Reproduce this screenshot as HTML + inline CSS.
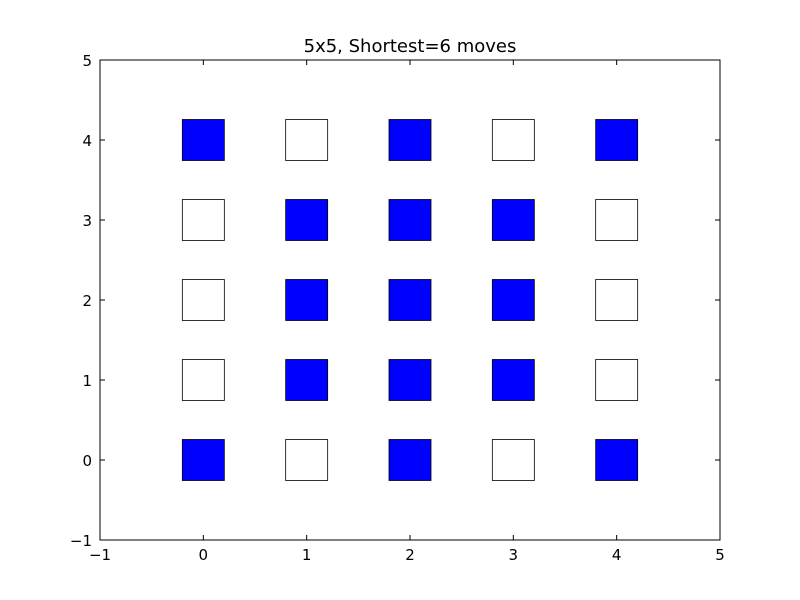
<!DOCTYPE html>
<html><head><meta charset="utf-8"><style>body{margin:0;background:#fff}svg{display:block}</style></head>
<body>
<svg id="c" width="800" height="600" xmlns="http://www.w3.org/2000/svg" font-family="DejaVu Sans, Liberation Sans, sans-serif"></svg>
<script>
const xTicks=[-1,0,1,2,3,4,5];
const yTicks=[-1,0,1,2,3,4,5];
const xs=[0,1,2,3,4];
const ys=[0,1,2,3,4];
// rows from y=0 to y=4; 1 = blue, 0 = white
const grid=[
[1,0,1,0,1],
[0,1,1,1,0],
[0,1,1,1,0],
[0,1,1,1,0],
[1,0,1,0,1]];
const title="5x5, Shortest=6 moves";
const L=100,R=720,T=60,B=540;
const sx=v=>L+(v+1)/6*(R-L);
const sy=v=>B-(v+1)/6*(B-T);
const svg=document.getElementById('c');
const NS='http://www.w3.org/2000/svg';
function mk(t,a,p){const e=document.createElementNS(NS,t);for(const k in a)e.setAttribute(k,a[k]);(p||svg).appendChild(e);return e;}
const fr=mk('rect',{x:L,y:T,width:R-L,height:B-T,fill:'#fff',stroke:'#000','stroke-width':1});


const hw=21,hh=20.5;
ys.forEach((yv,i)=>xs.forEach((xv,j)=>{
 const r=mk('rect',{x:sx(xv)-hw,y:sy(yv)-hh,width:2*hw,height:2*hh,fill:grid[i][j]?'#0000ff':'#fff',stroke:'#000','stroke-width':0.8});
 
 
}));
xTicks.forEach(v=>{
 const x=sx(v);
 mk('line',{x1:x,y1:B,x2:x,y2:B-5,stroke:'#000'});
 mk('line',{x1:x,y1:T,x2:x,y2:T+5,stroke:'#000'});
 const t=mk('text',{x:x,y:B+20,'text-anchor':'middle','font-size':15});
 t.textContent=v<0?'\u2212'+(-v):v;
 
 
});
yTicks.forEach(v=>{
 const y=sy(v);
 mk('line',{x1:L,y1:y,x2:L+5,y2:y,stroke:'#000'});
 mk('line',{x1:R,y1:y,x2:R-5,y2:y,stroke:'#000'});
 const t=mk('text',{x:L-8,y:y+6,'text-anchor':'end','font-size':15});
 t.textContent=v<0?'\u2212'+(-v):v;
 
 
});
const tt=mk('text',{x:(L+R)/2,y:52,'text-anchor':'middle','font-size':18});
tt.textContent=title;


</script>
</body></html>
